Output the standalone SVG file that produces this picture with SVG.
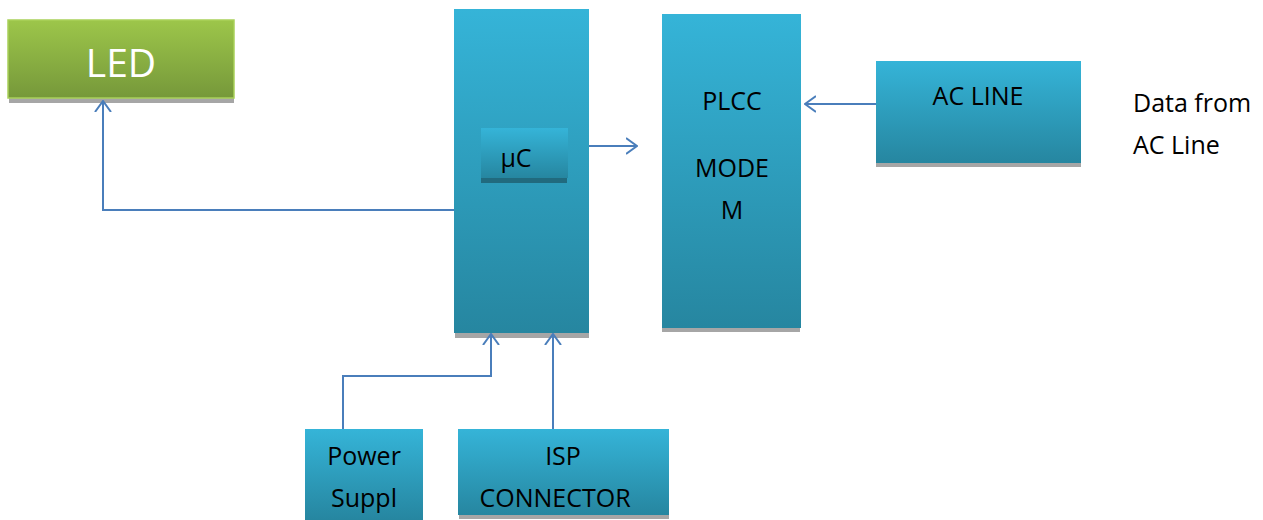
<svg xmlns="http://www.w3.org/2000/svg" width="1263" height="520" viewBox="0 0 1263 520">
<defs>
<linearGradient id="blue" x1="0" y1="0" x2="0" y2="1">
<stop offset="0" stop-color="#35b4d8"/>
<stop offset="1" stop-color="#2686a0"/>
</linearGradient>
<linearGradient id="green" x1="0" y1="0" x2="0" y2="1">
<stop offset="0" stop-color="#9dc64a"/>
<stop offset="1" stop-color="#76983a"/>
</linearGradient>
<marker id="arr" viewBox="0 0 12 18" refX="11" refY="9" markerWidth="12" markerHeight="18" markerUnits="userSpaceOnUse" orient="auto">
<path d="M0,1 L11,9 L0,17" fill="none" stroke="#4a7ebb" stroke-width="2"/>
</marker>
</defs>
<style>
.shadow{fill:#a6a6a6}
.box{fill:url(#blue)}
.t{font-family:"Open Sans",Lato,"Liberation Sans",sans-serif;font-size:25px;fill:#000;text-anchor:middle}
.c{fill:none;stroke:#4a7ebb;stroke-width:2}
</style>
<rect width="1263" height="520" fill="#fff"/>
<g id="led">
<rect class="shadow" x="9" y="98" width="225" height="5"/>
<rect x="8" y="20" width="226" height="78" fill="url(#green)" stroke="#a9d15a" stroke-width="1.5"/>
<text x="121" y="77" font-family="'Open Sans',Lato,'Liberation Sans',sans-serif" font-size="39" fill="#fff" text-anchor="middle">LED</text>
</g>
<g id="uc">
<rect class="shadow" x="455" y="333" width="134" height="5"/>
<rect class="box" x="454" y="9" width="135" height="324"/>
<rect x="481" y="176" width="86" height="7" fill="#216a7e"/>
<rect class="box" x="481" y="128" width="87" height="50"/>
<text class="t" x="516" y="167">μC</text>
</g>
<g id="plcc">
<rect class="shadow" x="662" y="328" width="138" height="4"/>
<rect class="box" x="662" y="14" width="139" height="314"/>
<text class="t" x="732" y="110">PLCC</text>
<text class="t" x="732" y="177">MODE</text>
<text class="t" x="732" y="219">M</text>
</g>
<g id="acline">
<rect class="shadow" x="876" y="163" width="205" height="4"/>
<rect class="box" x="876" y="61" width="205" height="102"/>
<text class="t" x="978" y="105">AC LINE</text>
</g>
<g id="note">
<text class="t" x="1133" y="112" style="text-anchor:start">Data from</text>
<text class="t" x="1133" y="154" style="text-anchor:start">AC Line</text>
</g>
<g id="power">
<rect class="box" x="305" y="429" width="118" height="91"/>
<text class="t" x="364" y="465">Power</text>
<text class="t" x="364" y="507">Suppl</text>
</g>
<g id="isp">
<rect class="shadow" x="459" y="515" width="210" height="4"/>
<rect class="box" x="458" y="429" width="211" height="86"/>
<text class="t" x="563" y="465">ISP</text>
<text class="t" x="555" y="507">CONNECTOR</text>
</g>
<g id="connectors">
<path class="c" d="M589,146 H637" marker-end="url(#arr)"/>
<path class="c" d="M876,104 H805" marker-end="url(#arr)"/>
<path class="c" d="M454,210 H103 V101" marker-end="url(#arr)"/>
<path class="c" d="M343,429 V376 H491 V334" marker-end="url(#arr)"/>
<path class="c" d="M553,429 V334" marker-end="url(#arr)"/>
</g>
</svg>
